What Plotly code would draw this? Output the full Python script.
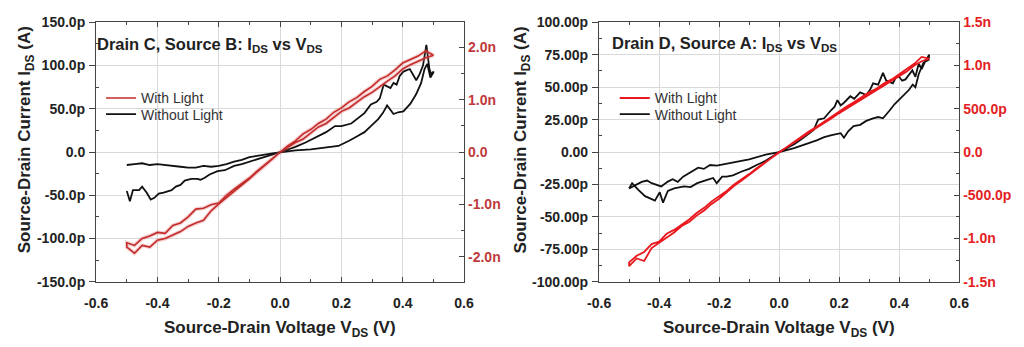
import plotly.graph_objects as go

# ---------------- data ----------------
# common voltage grids (V)
x_pos = [0.0, 0.025, 0.05, 0.075, 0.1, 0.125, 0.15, 0.175, 0.2, 0.225, 0.25,
         0.275, 0.3, 0.325, 0.35, 0.375, 0.4, 0.425, 0.45, 0.475, 0.5]
x_neg = [-0.5, -0.475, -0.45, -0.425, -0.4, -0.375, -0.35, -0.325, -0.3, -0.275, -0.25,
         -0.225, -0.2, -0.175, -0.15, -0.125, -0.1, -0.075, -0.05, -0.025, 0.0]

# Drain C / Source B, with light (nA, right axis)
c_light_pos_a = [0, 0.083, 0.182, 0.248, 0.364, 0.479, 0.546, 0.661, 0.777, 0.843, 0.959,
                 1.058, 1.141, 1.256, 1.356, 1.455, 1.587, 1.670, 1.736, 1.802, 1.851]
c_light_pos_b = [0, 0.116, 0.215, 0.347, 0.430, 0.546, 0.628, 0.760, 0.843, 0.959, 1.041,
                 1.157, 1.256, 1.389, 1.455, 1.570, 1.703, 1.769, 1.835, 1.934, 1.851]
c_light_neg_a = [-1.736, -1.785, -1.653, -1.603, -1.537, -1.554, -1.405, -1.356, -1.240, -1.091, -1.075,
                 -1.008, -0.975, -0.827, -0.711, -0.595, -0.496, -0.364, -0.248, -0.116, 0]
c_light_neg_b = [-1.818, -1.934, -1.785, -1.818, -1.686, -1.653, -1.587, -1.521, -1.422, -1.356, -1.306,
                 -1.124, -0.992, -0.876, -0.744, -0.628, -0.512, -0.380, -0.264, -0.132, 0]

# Drain C / Source B, without light (pA, left axis)
c_dark_pu_x = [0, 0.025, 0.05, 0.083, 0.1, 0.125, 0.15, 0.179, 0.2, 0.232, 0.25, 0.275, 0.296, 0.315,
               0.325, 0.338, 0.36, 0.37, 0.38, 0.39, 0.402, 0.423, 0.444, 0.455, 0.466, 0.477, 0.487, 0.493, 0.5]
c_dark_pu_y = [0, 3, 6, 11, 14, 18, 23, 30, 30, 33, 38, 45, 55, 58,
               62, 78, 74, 80, 78, 88, 93, 96, 83, 90, 100, 124, 96, 90, 93]
c_dark_pl_x = [0, 0.05, 0.1, 0.15, 0.19, 0.225, 0.25, 0.275, 0.296, 0.32, 0.335, 0.349, 0.37, 0.385,
               0.402, 0.425, 0.444, 0.46, 0.471, 0.48, 0.49, 0.5]
c_dark_pl_y = [0, 2, 3, 5, 7, 13, 18, 23, 30, 38, 45, 54, 44, 46,
               47, 56, 67, 80, 96, 102, 86, 92]
c_dark_nu_x = [0, -0.025, -0.05, -0.075, -0.1, -0.125, -0.15, -0.175, -0.2, -0.225, -0.25,
               -0.275, -0.3, -0.325, -0.35, -0.375, -0.4, -0.425, -0.45, -0.475, -0.5]
c_dark_nu_y = [0, -1.5, -3, -4.5, -6, -9, -11, -14, -16, -17, -16,
               -18, -18, -17, -16, -15, -14, -15, -13, -14, -15]
c_dark_nl_x = [-0.5, -0.49, -0.48, -0.46, -0.45, -0.435, -0.422, -0.41, -0.396, -0.38, -0.354, -0.34,
               -0.325, -0.311, -0.29, -0.27, -0.26, -0.247, -0.23, -0.204, -0.18, -0.15, -0.125,
               -0.098, -0.075, -0.05, -0.025, 0]
c_dark_nl_y = [-45, -57, -44, -44, -40, -47, -55, -53, -48, -47, -44, -40,
               -38, -33, -31, -31, -32, -30, -26, -22, -21, -16, -14,
               -11, -8, -5, -2.5, 0]

# Drain D / Source A, with light (nA, right axis)
d_light_pos_a = [0, 0.053, 0.105, 0.165, 0.225, 0.278, 0.33, 0.39, 0.45, 0.503, 0.555,
                 0.608, 0.66, 0.72, 0.765, 0.825, 0.87, 0.93, 1.0, 1.05, 1.08]
d_light_pos_b = [0, 0.06, 0.12, 0.18, 0.24, 0.293, 0.353, 0.405, 0.465, 0.525, 0.578,
                 0.63, 0.69, 0.735, 0.795, 0.84, 0.9, 0.96, 1.02, 1.1, 1.08]
d_light_neg_a = [-1.275, -1.2, -1.155, -1.065, -1.035, -0.945, -0.9, -0.84, -0.78, -0.705, -0.645,
                 -0.57, -0.51, -0.45, -0.375, -0.315, -0.255, -0.188, -0.128, -0.06, 0]
d_light_neg_b = [-1.32, -1.23, -1.26, -1.11, -1.05, -0.99, -0.93, -0.855, -0.81, -0.735, -0.675,
                 -0.6, -0.54, -0.465, -0.39, -0.33, -0.263, -0.195, -0.135, -0.068, 0]

# Drain D / Source A, without light (pA, left axis)
d_dark_pu_x = [0, 0.025, 0.05, 0.075, 0.1, 0.115, 0.13, 0.15, 0.172, 0.185, 0.194, 0.205, 0.216, 0.237,
               0.25, 0.27, 0.29, 0.303, 0.313, 0.33, 0.346, 0.357, 0.379, 0.39, 0.4, 0.41, 0.421,
               0.433, 0.444, 0.454, 0.465, 0.475, 0.487, 0.5]
d_dark_pu_y = [0, 3, 6, 10, 14, 17, 25, 26, 32, 35, 40, 36, 38, 43,
               41, 46, 44, 48, 53, 52, 61, 55, 53, 58, 58, 55, 56,
               60, 63, 58, 68, 64, 70, 75]
d_dark_pl_x = [0, 0.05, 0.096, 0.125, 0.15, 0.175, 0.205, 0.216, 0.23, 0.248, 0.27, 0.29, 0.313, 0.33,
               0.346, 0.368, 0.385, 0.4, 0.42, 0.433, 0.445, 0.454, 0.465, 0.481, 0.498, 0.5]
d_dark_pl_y = [0, 3, 6.5, 9, 11.5, 13, 14.5, 11, 16, 20, 21, 24, 26, 27,
               26, 32, 37, 40, 45, 48, 52, 50, 60, 69, 71, 75]
d_dark_nu_x = [0, -0.045, -0.1, -0.154, -0.208, -0.23, -0.251, -0.27, -0.284, -0.306, -0.32, -0.338,
               -0.355, -0.371, -0.393, -0.425, -0.44, -0.458, -0.475, -0.49, -0.5]
d_dark_nu_y = [0, -2, -5.6, -8, -10.5, -10, -13, -12, -14, -17, -19, -23,
               -21, -22.8, -26.5, -24, -22, -23, -25, -27, -28]
d_dark_nl_x = [-0.5, -0.49, -0.47, -0.447, -0.414, -0.398, -0.387, -0.371, -0.35, -0.317, -0.295, -0.273,
               -0.24, -0.22, -0.208, -0.19, -0.175, -0.154, -0.125, -0.1, -0.075, -0.045, -0.02, 0]
d_dark_nl_y = [-28, -24, -29, -34, -37.5, -31, -39, -30, -28, -26.5, -27, -24,
               -21.5, -20, -24, -19, -19, -18, -15, -13, -10, -6.8, -3, 0]

# tick labels
x_ticks = [-0.6, -0.4, -0.2, 0.0, 0.2, 0.4, 0.6]
x_ticklabels = ['-0.6', '-0.4', '-0.2', '0.0', '0.2', '0.4', '0.6']
c_left_ticks = [-150, -100, -50, 0, 50, 100, 150]
c_left_labels = ['-150.0p', '-100.0p', '-50.0p', '0.0', '50.0p', '100.0p', '150.0p']
c_right_ticks = [-2, -1, 0, 1, 2]
c_right_labels = ['-2.0n', '-1.0n', '0.0', '1.0n', '2.0n']
d_left_ticks = [-100, -75, -50, -25, 0, 25, 50, 75, 100]
d_left_labels = ['-100.00p', '-75.00p', '-50.00p', '-25.00p', '0.00', '25.00p', '50.00p', '75.00p', '100.00p']
d_right_ticks = [-1.5, -1.0, -0.5, 0, 0.5, 1.0, 1.5]
d_right_labels = ['-1.5n', '-1.0n', '-500.0p', '0.0', '500.0p', '1.0n', '1.5n']

# ---------------- helpers ----------------
W, H = 1024, 347
FONT = "Liberation Sans, Arial, sans-serif"
AX = '#444444'
GRID = '#d9d9d9'
C_RED_DARK = '#c42b2b'
C_RED = '#e8181e'


def loop(pos_a, pos_b, neg_a, neg_b, xp, xn):
    xs = list(xp) + list(reversed(xp)) + list(reversed(xn)) + list(xn)
    ys = list(pos_a) + list(reversed(pos_b)) + list(reversed(neg_a)) + list(neg_b)
    return xs, ys


def dark(pu_x, pu_y, pl_x, pl_y, nu_x, nu_y, nl_x, nl_y):
    xs = list(pu_x) + list(reversed(pl_x)) + list(nu_x) + [None] + list(nl_x)
    ys = list(pu_y) + list(reversed(pl_y)) + list(nu_y) + [None] + list(nl_y)
    return xs, ys


cx_l, cy_l = loop(c_light_pos_a, c_light_pos_b, c_light_neg_a, c_light_neg_b, x_pos, x_neg)
cx_d, cy_d = dark(c_dark_pu_x, c_dark_pu_y, c_dark_pl_x, c_dark_pl_y,
                  c_dark_nu_x, c_dark_nu_y, c_dark_nl_x, c_dark_nl_y)
dx_l, dy_l = loop(d_light_pos_a, d_light_pos_b, d_light_neg_a, d_light_neg_b, x_pos, x_neg)
dx_d, dy_d = dark(d_dark_pu_x, d_dark_pu_y, d_dark_pl_x, d_dark_pl_y,
                  d_dark_nu_x, d_dark_nu_y, d_dark_nl_x, d_dark_nl_y)

fig = go.Figure()
# left panel
fig.add_trace(go.Scatter(x=cx_l, y=cy_l, xaxis='x', yaxis='y2', mode='lines',
                         line=dict(color='rgba(225,110,110,0.32)', width=4),
                         showlegend=False, hoverinfo='skip'))
fig.add_trace(go.Scatter(x=cx_l, y=cy_l, xaxis='x', yaxis='y2', mode='lines',
                         line=dict(color=C_RED_DARK, width=1.6), name='With Light', legend='legend'))
fig.add_trace(go.Scatter(x=cx_d, y=cy_d, xaxis='x', yaxis='y', mode='lines',
                         line=dict(color='#111111', width=1.8), name='Without Light', legend='legend2'))
# right panel
fig.add_trace(go.Scatter(x=dx_l, y=dy_l, xaxis='x2', yaxis='y4', mode='lines',
                         line=dict(color=C_RED, width=1.8), name='With Light', legend='legend3'))
fig.add_trace(go.Scatter(x=dx_d, y=dy_d, xaxis='x2', yaxis='y3', mode='lines',
                         line=dict(color='#111111', width=1.8), name='Without Light', legend='legend4'))

tickfont = dict(family=FONT, size=14, color='#222222', weight='bold')
ydom = [1 - 287 / H, 1 - 15 / H]


def xaxis(domain, anchor):
    return dict(domain=domain, anchor=anchor, range=[-0.6, 0.6], tickmode='array',
                tickvals=x_ticks, ticktext=x_ticklabels, ticks='inside', ticklen=5,
                tickwidth=1.3, tickcolor=AX, showline=True, linecolor=AX, linewidth=1.3,
                mirror='ticks', showgrid=True, gridcolor=GRID, gridwidth=1, zeroline=False,
                tickfont=tickfont, ticklabelstandoff=8,
                minor=dict(tickvals=[-0.5, -0.3, -0.1, 0.1, 0.3, 0.5], ticks='inside',
                           ticklen=3, tickwidth=1.2, tickcolor=AX, showgrid=False))


def yleft(anchor, rng, tv, tt, minor_vals):
    return dict(domain=ydom, anchor=anchor, range=rng, tickmode='array', tickvals=tv, ticktext=tt,
                ticks='outside', ticklen=6, tickwidth=1.3, tickcolor=AX, showline=True,
                linecolor=AX, linewidth=1.3, showgrid=True, gridcolor=GRID, gridwidth=1,
                zeroline=False, tickfont=tickfont, ticklabelstandoff=1,
                minor=dict(tickvals=minor_vals, ticks='inside', ticklen=3, tickwidth=1.2,
                           tickcolor=AX, showgrid=False))


def yright(overlay, anchor, rng, tv, tt, minor_vals, color):
    return dict(overlaying=overlay, anchor=anchor, side='right', range=rng, tickmode='array',
                tickvals=tv, ticktext=tt, ticks='inside', ticklen=5, tickwidth=1.3, tickcolor=AX,
                showline=True, linecolor=AX, linewidth=1.3, showgrid=False, zeroline=False,
                tickfont=dict(family=FONT, size=14, color=color, weight='bold'),
                minor=dict(tickvals=minor_vals, ticks='inside', ticklen=3, tickwidth=1.2,
                           tickcolor=AX, showgrid=False))


legend_common = dict(font=dict(family=FONT, size=14, color='#333333'), bgcolor='rgba(0,0,0,0)',
                     borderwidth=0, itemwidth=30, xanchor='left', yanchor='top',
                     orientation='v')

fig.update_layout(
    width=W, height=H, margin=dict(l=0, r=0, t=0, b=0), autosize=False,
    paper_bgcolor='white', plot_bgcolor='white',
    xaxis=xaxis([86 / W, 462 / W], 'y'),
    yaxis=yleft('x', [-150, 150], c_left_ticks, c_left_labels, [-125, -75, -25, 25, 75, 125]),
    yaxis2=yright('y', 'x', [-2.48, 2.48], c_right_ticks, c_right_labels,
                  [-1.5, -0.5, 0.5, 1.5], '#c0393b'),
    xaxis2=xaxis([600 / W, 968 / W], 'y3'),
    yaxis3=yleft('x2', [-100, 100], d_left_ticks, d_left_labels,
                 [-87.5, -62.5, -37.5, -12.5, 12.5, 37.5, 62.5, 87.5]),
    yaxis4=yright('y3', 'x2', [-1.5, 1.5], d_right_ticks, d_right_labels,
                  [-1.25, -0.75, -0.25, 0.25, 0.75, 1.25], '#e31e24'),
    legend=dict(x=91 / W, y=1 - 78 / H, **legend_common),
    legend2=dict(x=91 / W, y=1 - 95 / H, **legend_common),
    legend3=dict(x=616 / W, y=1 - 78 / H, **legend_common),
    legend4=dict(x=616 / W, y=1 - 95 / H, **legend_common),
)

title_font = dict(family=FONT, size=16.5, color='#222222')
axis_title_font = dict(family=FONT, size=17, color='#222222')
ann = [
    dict(text='<b>Drain C, Source B: I<sub>DS</sub> vs V<sub>DS</sub></b>', x=85 / W, y=1 - 39 / H,
         xanchor='left', yanchor='middle', font=title_font),
    dict(text='<b>Drain D, Source A: I<sub>DS</sub> vs V<sub>DS</sub></b>', x=611 / W, y=1 - 38 / H,
         xanchor='left', yanchor='middle', font=title_font),
    dict(text='<b>Source-Drain Current I<sub>DS</sub> (A)</b>', x=14 / W, y=1 - 138 / H,
         textangle=-90, xanchor='center', yanchor='middle', font=axis_title_font),
    dict(text='<b>Source-Drain Current I<sub>DS</sub> (A)</b>', x=521 / W, y=1 - 138 / H,
         textangle=-90, xanchor='center', yanchor='middle', font=axis_title_font),
    dict(text='<b>Source-Drain Voltage V<sub>DS</sub> (V)</b>', x=274 / W, y=1 - 336 / H,
         xanchor='center', yanchor='middle', font=axis_title_font),
    dict(text='<b>Source-Drain Voltage V<sub>DS</sub> (V)</b>', x=784 / W, y=1 - 336 / H,
         xanchor='center', yanchor='middle', font=axis_title_font),
]
for a in ann:
    a.update(xref='paper', yref='paper', showarrow=False)
fig.update_layout(annotations=ann)

fig.write_html("out.html")
